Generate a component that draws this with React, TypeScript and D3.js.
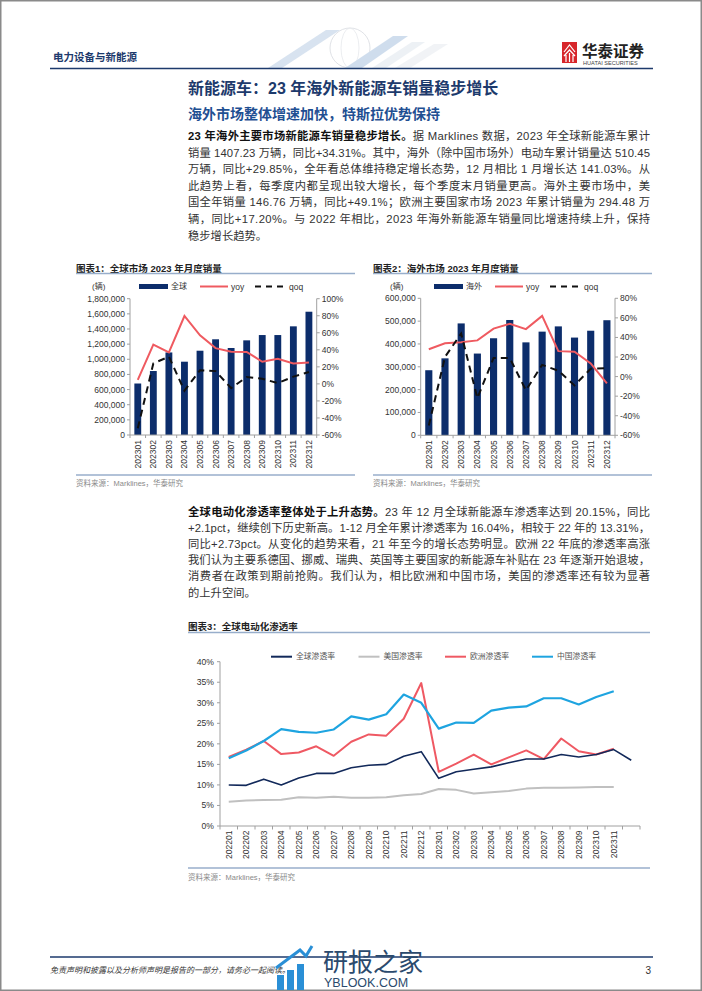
import React from "react";
import * as d3 from "d3";

// ---------------- DATA ----------------
const months23 = ["202301","202302","202303","202304","202305","202306","202307","202308","202309","202310","202311","202312"];
const globalSales = [680000, 845000, 1090000, 968000, 1113000, 1264000, 1149000, 1250000, 1320000, 1320000, 1435000, 1628000];
const globalYoy = [4.6, 46, 37, 79.7, 57, 42, 37.8, 37.5, 26, 29.5, 24, 25];
const globalQoq = [-52, 24, 32, -8, 16, 15, -5, 8, 6, 1, 8.5, 14];
const overseasSales = [285000, 337000, 490000, 358000, 425000, 505000, 407000, 454000, 477000, 428000, 458000, 504000];
const overseasYoy = [28, 34, 35, 37, 49, 54, 48.5, 62, 26, 25.5, 13.5, -7];
const overseasQoq = [-50, 20, 44, -22, 19, 19, -14, 12, 6, -9, 8, 8.5];

const months3 = ["202201","202202","202203","202204","202205","202206","202207","202208","202209","202210","202211","202212","202301","202302","202303","202304","202305","202306","202307","202308","202309","202310","202311","202312"];
const months3Labels = ["202201","202202","202203","202204","202205","202206","202207","202208","202209","202210","202211","202212","202301","202302","202303","202304","202305","202306","202307","202308","202309","202310","202311",""];
const globalPen = [10.0, 9.9, 11.4, 10.0, 11.7, 12.8, 12.8, 14.2, 14.8, 15.0, 17.0, 18.1, 11.6, 13.2, 13.8, 14.4, 15.4, 16.3, 16.3, 17.4, 16.8, 17.4, 18.6, 16.0];
const usPen: (number | null)[] = [5.9, 6.2, 6.3, 6.4, 7.0, 6.9, 7.1, 6.9, 6.9, 7.0, 7.5, 7.8, 9.0, 8.8, 7.9, 8.2, 8.5, 9.1, 9.3, 9.3, 9.4, 9.5, 9.5, null];
const euPen: (number | null)[] = [16.8, 18.6, 20.7, 17.5, 17.9, 19.4, 17.1, 20.5, 22.3, 22.0, 26.1, 34.8, 13.2, 15.2, 17.4, 15.0, 16.7, 18.4, 16.3, 21.3, 18.2, 17.4, 18.8, null];
const cnPen: (number | null)[] = [16.5, 18.4, 20.7, 23.6, 22.9, 22.7, 23.5, 26.7, 25.9, 27.2, 32.0, 30.0, 23.7, 25.2, 25.1, 28.1, 28.8, 29.1, 31.1, 31.1, 29.6, 31.4, 32.8, null];
const penSeriesNames = ["全球渗透率", "美国渗透率", "欧洲渗透率", "中国渗透率"];

const para1Bold = "23 年海外主要市场新能源车销量稳步增长。";
const para1Lines = [
  "据 Marklines 数据，2023 年全球新能源车累计",
  "销量 1407.23 万辆，同比+34.31%。其中，海外（除中国市场外）电动车累计销量达 510.45",
  "万辆，同比+29.85%，全年看总体维持稳定增长态势，12 月相比 1 月增长达 141.03%。从",
  "此趋势上看，每季度内都呈现出较大增长，每个季度末月销量更高。海外主要市场中，美",
  "国全年销量 146.76 万辆，同比+49.1%；欧洲主要国家市场 2023 年累计销量为 294.48 万",
  "辆，同比+17.20%。与 2022 年相比，2023 年海外新能源车销量同比增速持续上升，保持",
  "稳步增长趋势。",
];
const para2Bold = "全球电动化渗透率整体处于上升态势。";
const para2Lines = [
  "23 年 12 月全球新能源车渗透率达到 20.15%，同比",
  "+2.1pct，继续创下历史新高。1-12 月全年累计渗透率为 16.04%，相较于 22 年的 13.31%，",
  "同比+2.73pct。从变化的趋势来看，21 年至今的增长态势明显。欧洲 22 年底的渗透率高涨",
  "我们认为主要系德国、挪威、瑞典、英国等主要国家的新能源车补贴在 23 年逐渐开始退坡，",
  "消费者在政策到期前抢购。我们认为，相比欧洲和中国市场，美国的渗透率还有较为显著",
  "的上升空间。",
];

// ---------------- STYLE ----------------
const SANS = "'Liberation Sans', Arial, 'Noto Sans CJK SC', sans-serif";
const NAVY = "#1d3a6c";
const BAR = "#0c2d6b";
const RED = "#ef5a60";
const AXIS = "#a0a0a0";
const RULE = "#98aecb";

type ComboProps = {
  left: number; right: number; top: number; bottom: number;
  yMax: number; yCount: number; rMin: number; rMax: number; rCount: number;
  bars: number[]; yoy: number[]; qoq: number[];
  title: string; titleX: number; ruleEnd: number; unitX: number; legendX: number; barName: string;
};

function Combo(p: ComboProps) {
  const x = d3.scaleBand<string>().domain(months23).range([p.left, p.right]);
  const y = d3.scaleLinear().domain([0, p.yMax]).range([p.bottom, p.top]);
  const yr = d3.scaleLinear().domain([p.rMin, p.rMax]).range([p.bottom, p.top]);
  const cx = (m: string) => (x(m) as number) + x.bandwidth() / 2;
  const bw = x.bandwidth() * 0.44;
  const lineGen = d3.line<number>().x((_, i) => cx(months23[i])).y((v) => yr(v));
  const fmt = d3.format(",");
  const ly = 286.5;
  const fs = 8.5;
  const boundaries = d3.range(months23.length + 1).map((i) => p.left + i * x.step());
  return (
    <g>
      <text x={p.titleX} y={268} fontSize={9.5} fontWeight="bold" fill="#222" dominantBaseline="central">{p.title}</text>
      <line x1={p.titleX} x2={p.ruleEnd} y1={273.5} y2={273.5} stroke={RULE} strokeWidth={1.5} />
      <text x={p.unitX} y={ly} fontSize={8} fill="#333" dominantBaseline="central">(辆)</text>
      <rect x={p.legendX} y={ly - 2.5} width={29} height={5} fill={BAR} />
      <text x={p.legendX + 32} y={ly} fontSize={8} fill="#333" dominantBaseline="central">{p.barName}</text>
      <line x1={p.legendX + 61} x2={p.legendX + 89} y1={ly} y2={ly} stroke={RED} strokeWidth={2} />
      <text x={p.legendX + 92} y={ly} fontSize={fs} fill="#333" dominantBaseline="central">yoy</text>
      <line x1={p.legendX + 116} x2={p.legendX + 147} y1={ly} y2={ly} stroke="#111" strokeWidth={2} strokeDasharray="6,5" />
      <text x={p.legendX + 150} y={ly} fontSize={fs} fill="#333" dominantBaseline="central">qoq</text>

      {p.bars.map((v, i) => (
        <rect key={i} x={cx(months23[i]) - bw / 2} y={y(v)} width={bw} height={p.bottom - y(v)} fill={BAR} />
      ))}
      <path d={lineGen(p.yoy) || ""} fill="none" stroke={RED} strokeWidth={2} />
      <path d={lineGen(p.qoq) || ""} fill="none" stroke="#111" strokeWidth={2} strokeDasharray="7,5" />

      <line x1={p.left} x2={p.left} y1={p.top} y2={p.bottom} stroke={AXIS} />
      {y.ticks(p.yCount).map((t) => (
        <g key={t}>
          <line x1={p.left - 3} x2={p.left} y1={y(t)} y2={y(t)} stroke={AXIS} />
          <text x={p.left - 5} y={y(t)} fontSize={fs} fill="#333" textAnchor="end" dominantBaseline="central">{fmt(t)}</text>
        </g>
      ))}
      <line x1={p.right} x2={p.right} y1={p.top} y2={p.bottom} stroke={AXIS} />
      {yr.ticks(p.rCount).map((t) => (
        <g key={t}>
          <line x1={p.right} x2={p.right + 3} y1={yr(t)} y2={yr(t)} stroke={AXIS} />
          <text x={p.right + 5} y={yr(t)} fontSize={fs} fill="#333" dominantBaseline="central">{t + "%"}</text>
        </g>
      ))}
      <line x1={p.left} x2={p.right} y1={p.bottom} y2={p.bottom} stroke={AXIS} />
      {boundaries.map((b, i) => (
        <line key={i} x1={b} x2={b} y1={p.bottom} y2={p.bottom + 3} stroke={AXIS} />
      ))}
      {months23.map((m) => (
        <text key={m} transform={`translate(${cx(m)},${p.bottom + 5}) rotate(-90)`} fontSize={fs} fill="#333" textAnchor="end" dominantBaseline="central">{m}</text>
      ))}

      <line x1={p.titleX} x2={p.ruleEnd} y1={475} y2={475} stroke={RULE} strokeWidth={1.5} />
      <text x={p.titleX} y={483.5} fontSize={7.5} fill="#8a8a8a" dominantBaseline="central">资料来源：Marklines，华泰研究</text>
    </g>
  );
}

function PenChart() {
  const left = 220, right = 640, top = 661.7, bottom = 826;
  const x = d3.scaleBand<string>().domain(months3).range([left, right]);
  const y = d3.scaleLinear().domain([0, 40]).range([bottom, top]);
  const cx = (i: number) => (x(months3[i]) as number) + x.bandwidth() / 2;
  const lineGen = d3.line<number | null>().defined((v) => v != null).x((_, i) => cx(i)).y((v) => y(v as number));
  const series = [
    { name: penSeriesNames[0], data: globalPen as (number | null)[], color: "#12295a", w: 1.6 },
    { name: penSeriesNames[1], data: usPen, color: "#c0c0c0", w: 2 },
    { name: penSeriesNames[2], data: euPen, color: "#ef5963", w: 2 },
    { name: penSeriesNames[3], data: cnPen, color: "#1ea4e0", w: 2.2 },
  ];
  const legendPos = [271, 358.5, 445, 532];
  const ly = 656.7;
  const boundaries = d3.range(months3.length + 1).map((i) => left + i * x.step());
  return (
    <g>
      <text x={188} y={626} fontSize={9.5} fontWeight="bold" fill="#222" dominantBaseline="central">图表3：全球电动化渗透率</text>
      <line x1={188} x2={650} y1={632.5} y2={632.5} stroke={RULE} strokeWidth={1.5} />
      {series.map((s, i) => (
        <g key={s.name}>
          <line x1={legendPos[i]} x2={legendPos[i] + 21} y1={ly} y2={ly} stroke={s.color} strokeWidth={2} />
          <text x={legendPos[i] + 25} y={ly} fontSize={7.8} fill="#555" dominantBaseline="central">{s.name}</text>
        </g>
      ))}
      <line x1={left} x2={left} y1={top} y2={bottom} stroke={AXIS} />
      {y.ticks(8).map((t) => (
        <g key={t}>
          <line x1={left - 3} x2={left} y1={y(t)} y2={y(t)} stroke={AXIS} />
          <text x={left - 6} y={y(t)} fontSize={8.6} fill="#333" textAnchor="end" dominantBaseline="central">{t + "%"}</text>
        </g>
      ))}
      <line x1={left} x2={right} y1={bottom} y2={bottom} stroke={AXIS} />
      {boundaries.map((b, i) => (
        <line key={i} x1={b} x2={b} y1={bottom} y2={bottom + 3.5} stroke={AXIS} />
      ))}
      {months3Labels.map((m, i) => (
        m ? <text key={i} transform={`translate(${cx(i)},${bottom + 4.5}) rotate(-90)`} fontSize={8.5} fill="#333" textAnchor="end" dominantBaseline="central">{m}</text> : null
      ))}
      {[series[1], series[2], series[3], series[0]].map((s) => (
        <path key={s.name} d={lineGen(s.data) || ""} fill="none" stroke={s.color} strokeWidth={s.w} strokeLinejoin="round" />
      ))}
      <line x1={188} x2={650} y1={868} y2={868} stroke={RULE} strokeWidth={1.5} />
      <text x={188} y={877} fontSize={7.5} fill="#8a8a8a" dominantBaseline="central">资料来源：Marklines，华泰研究</text>
    </g>
  );
}

export default function App() {
  React.useEffect(() => {
    document.body.style.margin = "0";
  }, []);
  const textW = 462;
  return (
    <svg width={702} height={991} style={{ position: "absolute", left: 0, top: 0, background: "#fff" }} fontFamily={SANS}>
      <rect x={0.75} y={0.75} width={700.5} height={989.5} fill="#fff" stroke="#8a8a8a" strokeWidth={1.5} />

      <g opacity={0.55}>
        <circle cx={350} cy={48} r={20} fill="none" stroke="#c8ccd4" strokeWidth={1} />
        <ellipse cx={350} cy={48} rx={9} ry={20} fill="none" stroke="#d4d8de" strokeWidth={0.8} />
        <polygon points="268,68 282,68 340,30 326,30" fill="#b9cde4" />
        <polygon points="345,68 362,68 408,36 393,36" fill="#a9c3e0" />
        <polygon points="372,68 386,68 425,42 412,42" fill="#dfe6ee" />
        <polygon points="395,68 410,68 448,44 434,44" fill="#e6ebf0" />
      </g>
      <text x={53} y={57} fontSize={10.5} fontWeight="bold" fill={NAVY} dominantBaseline="central">电力设备与新能源</text>
      <line x1={50} x2={653} y1={68.5} y2={68.5} stroke={NAVY} strokeWidth={1.6} />
      <rect x={562} y={42} width={15} height={21} fill="#d7262b" />
      <path d="M564,52 L569.5,45 L575,52 M566,62 L566,55 M569.5,62 L569.5,53 M573,62 L573,55 M564,56 L569.5,50 L575,56" stroke="#fff" strokeWidth={1.2} fill="none" />
      <text x={582} y={51.5} fontSize={15.5} fontWeight="bold" fill="#222" dominantBaseline="central">华泰证券</text>
      <text x={583} y={62.5} fontSize={5.6} fill="#444" dominantBaseline="central">HUATAI SECURITIES</text>

      <text x={188} y={88.5} fontSize={16} fontWeight="bold" fill={NAVY} dominantBaseline="central">新能源车：23 年海外新能源车销量稳步增长</text>
      <text x={188} y={114} fontSize={14} fontWeight="bold" fill="#1f4f92" dominantBaseline="central">海外市场整体增速加快，特斯拉优势保持</text>

      {para1Lines.map((ln, i) => (
        <text key={i} x={188} y={136 + i * 16.6} fontSize={11.3} fill="#333" dominantBaseline="central"
          textLength={i < para1Lines.length - 1 ? textW : undefined} lengthAdjust="spacing">
          {i === 0 ? <><tspan fontWeight="bold" fill="#111">{para1Bold}</tspan>{ln}</> : ln}
        </text>
      ))}

      <Combo left={130} right={316.7} top={298.7} bottom={435} yMax={1800000} yCount={9} rMin={-60} rMax={100} rCount={8}
        bars={globalSales} yoy={globalYoy} qoq={globalQoq}
        title="图表1：全球市场 2023 年月度销量" titleX={76} ruleEnd={355} unitX={92} legendX={139} barName="全球" />
      <Combo left={420.7} right={615} top={298.3} bottom={435.3} yMax={600000} yCount={6} rMin={-60} rMax={80} rCount={7}
        bars={overseasSales} yoy={overseasYoy} qoq={overseasQoq}
        title="图表2：海外市场 2023 年月度销量" titleX={373} ruleEnd={652} unitX={390} legendX={434} barName="海外" />

      {para2Lines.map((ln, i) => (
        <text key={i} x={188} y={512 + i * 16.1} fontSize={11.3} fill="#333" dominantBaseline="central"
          textLength={i < para2Lines.length - 1 ? textW : undefined} lengthAdjust="spacing">
          {i === 0 ? <><tspan fontWeight="bold" fill="#111">{para2Bold}</tspan>{ln}</> : ln}
        </text>
      ))}

      <PenChart />

      <line x1={50} x2={653} y1={957} y2={957} stroke={NAVY} strokeWidth={1.6} />
      <text x={50} y={970} fontSize={8} fontStyle="italic" fill="#333" dominantBaseline="central">免责声明和披露以及分析师声明是报告的一部分，请务必一起阅读。</text>
      <text x={651} y={970} fontSize={10} fill="#333" textAnchor="end" dominantBaseline="central">3</text>
      <g>
        <rect x={277} y={975} width={7} height={15} fill="#2a8fd6" />
        <rect x={287} y={970} width={7} height={20} fill="#2a8fd6" />
        <rect x={297} y={964} width={7} height={26} fill="#2a8fd6" />
        <path d="M276,968 L300,950 L306,956 L312,946" stroke="#2a8fd6" strokeWidth={3} fill="none" />
        <text x={323} y={962} fontSize={25} fill="#2b4a6d" dominantBaseline="central">研报之家</text>
        <text x={324} y={982.5} fontSize={12.5} fill="#2b4a6d" dominantBaseline="central">YBLOOK.COM</text>
      </g>
    </svg>
  );
}
